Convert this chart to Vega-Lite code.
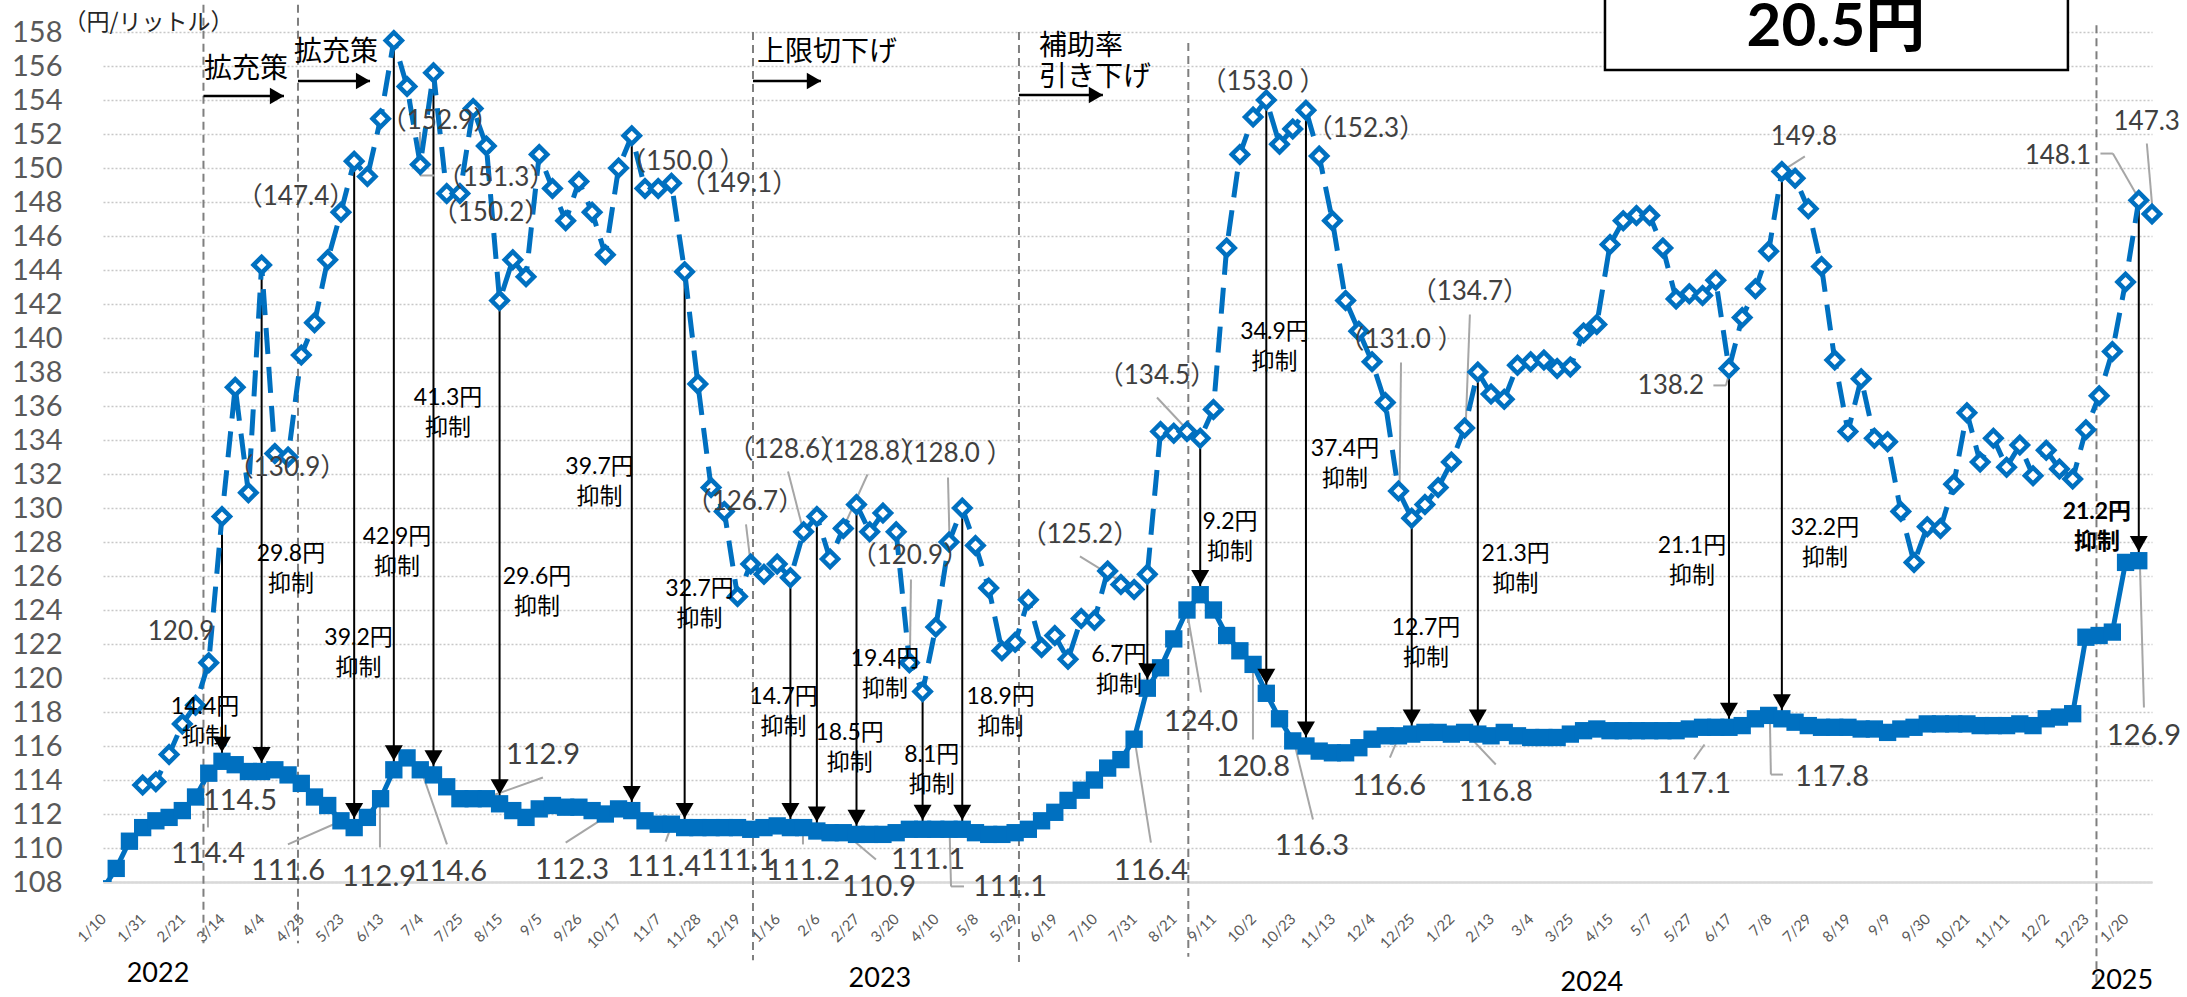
{
  "$schema": "https://vega.github.io/schema/vega-lite/v6.json",
  "width": 2049,
  "height": 850,
  "autosize": {"type": "none"},
  "padding": {"left": 103, "top": 32, "right": 35, "bottom": 115},
  "background": "white",
  "config": {"view": {"stroke": null}},
  "resolve": {"axis": {"x": "independent", "y": "independent"}},
  "datasets": {
    "withSubsidy": [
      {"i":0,"v":107.6},{"i":1,"v":108.8},{"i":2,"v":110.4},{"i":3,"v":111.2},{"i":4,"v":111.6},{"i":5,"v":111.8},{"i":6,"v":112.2},{"i":7,"v":113.0},{"i":8,"v":114.4},{"i":9,"v":115.1},
      {"i":10,"v":114.9},{"i":11,"v":114.5},{"i":12,"v":114.5},{"i":13,"v":114.6},{"i":14,"v":114.3},{"i":15,"v":113.8},{"i":16,"v":113.0},{"i":17,"v":112.5},{"i":18,"v":111.6},{"i":19,"v":111.2},
      {"i":20,"v":111.8},{"i":21,"v":112.9},{"i":22,"v":114.6},{"i":23,"v":115.3},{"i":24,"v":114.6},{"i":25,"v":114.3},{"i":26,"v":113.6},{"i":27,"v":112.9},{"i":28,"v":112.9},{"i":29,"v":112.9},
      {"i":30,"v":112.6},{"i":31,"v":112.2},{"i":32,"v":111.8},{"i":33,"v":112.3},{"i":34,"v":112.5},{"i":35,"v":112.4},{"i":36,"v":112.4},{"i":37,"v":112.2},{"i":38,"v":112.0},{"i":39,"v":112.3},
      {"i":40,"v":112.2},{"i":41,"v":111.6},{"i":42,"v":111.4},{"i":43,"v":111.4},{"i":44,"v":111.2},{"i":45,"v":111.2},{"i":46,"v":111.2},{"i":47,"v":111.2},{"i":48,"v":111.2},{"i":49,"v":111.1},
      {"i":50,"v":111.2},{"i":51,"v":111.3},{"i":52,"v":111.2},{"i":53,"v":111.2},{"i":54,"v":111.0},{"i":55,"v":110.9},{"i":56,"v":110.9},{"i":57,"v":110.8},{"i":58,"v":110.8},{"i":59,"v":110.8},
      {"i":60,"v":110.9},{"i":61,"v":111.1},{"i":62,"v":111.1},{"i":63,"v":111.1},{"i":64,"v":111.1},{"i":65,"v":111.1},{"i":66,"v":110.9},{"i":67,"v":110.8},{"i":68,"v":110.8},{"i":69,"v":110.9},
      {"i":70,"v":111.1},{"i":71,"v":111.6},{"i":72,"v":112.1},{"i":73,"v":112.8},{"i":74,"v":113.4},{"i":75,"v":114.0},{"i":76,"v":114.7},{"i":77,"v":115.2},{"i":78,"v":116.4},{"i":79,"v":119.4},
      {"i":80,"v":120.6},{"i":81,"v":122.3},{"i":82,"v":124.0},{"i":83,"v":124.9},{"i":84,"v":124.0},{"i":85,"v":122.5},{"i":86,"v":121.6},{"i":87,"v":120.8},{"i":88,"v":119.1},{"i":89,"v":117.6},
      {"i":90,"v":116.3},{"i":91,"v":116.0},{"i":92,"v":115.7},{"i":93,"v":115.6},{"i":94,"v":115.6},{"i":95,"v":115.9},{"i":96,"v":116.4},{"i":97,"v":116.6},{"i":98,"v":116.6},{"i":99,"v":116.7},
      {"i":100,"v":116.8},{"i":101,"v":116.8},{"i":102,"v":116.7},{"i":103,"v":116.8},{"i":104,"v":116.7},{"i":105,"v":116.6},{"i":106,"v":116.8},{"i":107,"v":116.6},{"i":108,"v":116.5},{"i":109,"v":116.5},
      {"i":110,"v":116.5},{"i":111,"v":116.7},{"i":112,"v":116.9},{"i":113,"v":117.0},{"i":114,"v":116.9},{"i":115,"v":116.9},{"i":116,"v":116.9},{"i":117,"v":116.9},{"i":118,"v":116.9},{"i":119,"v":116.9},
      {"i":120,"v":117.0},{"i":121,"v":117.1},{"i":122,"v":117.1},{"i":123,"v":117.1},{"i":124,"v":117.2},{"i":125,"v":117.6},{"i":126,"v":117.8},{"i":127,"v":117.6},{"i":128,"v":117.4},{"i":129,"v":117.2},
      {"i":130,"v":117.1},{"i":131,"v":117.1},{"i":132,"v":117.1},{"i":133,"v":117.0},{"i":134,"v":117.0},{"i":135,"v":116.8},{"i":136,"v":117.0},{"i":137,"v":117.1},{"i":138,"v":117.3},{"i":139,"v":117.3},
      {"i":140,"v":117.3},{"i":141,"v":117.3},{"i":142,"v":117.2},{"i":143,"v":117.2},{"i":144,"v":117.2},{"i":145,"v":117.3},{"i":146,"v":117.2},{"i":147,"v":117.6},{"i":148,"v":117.7},{"i":149,"v":117.9},
      {"i":150,"v":122.4},{"i":151,"v":122.5},{"i":152,"v":122.7},{"i":153,"v":126.8},{"i":154,"v":126.9}
    ],
    "withoutSubsidy": [
      {"i":3,"v":113.7},{"i":4,"v":113.9},{"i":5,"v":115.5},{"i":6,"v":117.3},{"i":7,"v":118.4},{"i":8,"v":120.9},{"i":9,"v":129.5},
      {"i":10,"v":137.1},{"i":11,"v":130.9},{"i":12,"v":144.3},{"i":13,"v":133.2},{"i":14,"v":133.0},{"i":15,"v":139.0},{"i":16,"v":140.9},{"i":17,"v":144.6},{"i":18,"v":147.4},{"i":19,"v":150.4},
      {"i":20,"v":149.5},{"i":21,"v":152.9},{"i":22,"v":157.5},{"i":23,"v":154.8},{"i":24,"v":150.2},{"i":25,"v":155.6},{"i":26,"v":148.5},{"i":27,"v":148.5},{"i":28,"v":153.5},{"i":29,"v":151.3},
      {"i":30,"v":142.2},{"i":31,"v":144.6},{"i":32,"v":143.6},{"i":33,"v":150.8},{"i":34,"v":148.8},{"i":35,"v":146.9},{"i":36,"v":149.2},{"i":37,"v":147.4},{"i":38,"v":144.9},{"i":39,"v":150.0},
      {"i":40,"v":151.9},{"i":41,"v":148.8},{"i":42,"v":148.8},{"i":43,"v":149.1},{"i":44,"v":143.9},{"i":45,"v":137.3},{"i":46,"v":131.2},{"i":47,"v":129.8},{"i":48,"v":124.8},{"i":49,"v":126.7},
      {"i":50,"v":126.1},{"i":51,"v":126.7},{"i":52,"v":125.9},{"i":53,"v":128.6},{"i":54,"v":129.5},{"i":55,"v":127.0},{"i":56,"v":128.8},{"i":57,"v":130.2},{"i":58,"v":128.6},{"i":59,"v":129.7},
      {"i":60,"v":128.6},{"i":61,"v":120.9},{"i":62,"v":119.2},{"i":63,"v":123.0},{"i":64,"v":128.0},{"i":65,"v":130.0},{"i":66,"v":127.8},{"i":67,"v":125.3},{"i":68,"v":121.6},{"i":69,"v":122.1},
      {"i":70,"v":124.6},{"i":71,"v":121.8},{"i":72,"v":122.5},{"i":73,"v":121.1},{"i":74,"v":123.5},{"i":75,"v":123.4},{"i":76,"v":126.3},{"i":77,"v":125.5},{"i":78,"v":125.2},{"i":79,"v":126.1},
      {"i":80,"v":134.5},{"i":81,"v":134.4},{"i":82,"v":134.5},{"i":83,"v":134.1},{"i":84,"v":135.8},{"i":85,"v":145.3},{"i":86,"v":150.8},{"i":87,"v":153.0},{"i":88,"v":154.0},{"i":89,"v":151.4},
      {"i":90,"v":152.3},{"i":91,"v":153.4},{"i":92,"v":150.7},{"i":93,"v":146.9},{"i":94,"v":142.2},{"i":95,"v":140.4},{"i":96,"v":138.6},{"i":97,"v":136.2},{"i":98,"v":131.0},{"i":99,"v":129.4},
      {"i":100,"v":130.2},{"i":101,"v":131.2},{"i":102,"v":132.7},{"i":103,"v":134.7},{"i":104,"v":138.0},{"i":105,"v":136.7},{"i":106,"v":136.4},{"i":107,"v":138.4},{"i":108,"v":138.6},{"i":109,"v":138.7},
      {"i":110,"v":138.2},{"i":111,"v":138.3},{"i":112,"v":140.3},{"i":113,"v":140.8},{"i":114,"v":145.5},{"i":115,"v":146.9},{"i":116,"v":147.2},{"i":117,"v":147.2},{"i":118,"v":145.3},{"i":119,"v":142.3},
      {"i":120,"v":142.6},{"i":121,"v":142.5},{"i":122,"v":143.4},{"i":123,"v":138.2},{"i":124,"v":141.2},{"i":125,"v":142.9},{"i":126,"v":145.1},{"i":127,"v":149.8},{"i":128,"v":149.4},{"i":129,"v":147.6},
      {"i":130,"v":144.2},{"i":131,"v":138.7},{"i":132,"v":134.5},{"i":133,"v":137.6},{"i":134,"v":134.1},{"i":135,"v":133.9},{"i":136,"v":129.8},{"i":137,"v":126.8},{"i":138,"v":128.9},{"i":139,"v":128.8},
      {"i":140,"v":131.4},{"i":141,"v":135.6},{"i":142,"v":132.7},{"i":143,"v":134.1},{"i":144,"v":132.4},{"i":145,"v":133.7},{"i":146,"v":131.9},{"i":147,"v":133.4},{"i":148,"v":132.3},{"i":149,"v":131.7},
      {"i":150,"v":134.6},{"i":151,"v":136.6},{"i":152,"v":139.2},{"i":153,"v":143.3},{"i":154,"v":148.1},{"i":155,"v":147.3}
    ],
    "cuts": [
      {"i":9,"v":129.5,"v2":115.1,"text":"14.4円\n抑制","tx":7.72,"ty":118.32},
      {"i":12,"v":144.3,"v2":114.5,"text":"29.8円\n抑制","tx":14.22,"ty":127.27},
      {"i":19,"v":150.4,"v2":111.2,"text":"39.2円\n抑制","tx":19.33,"ty":122.38},
      {"i":22,"v":157.5,"v2":114.6,"text":"42.9円\n抑制","tx":22.24,"ty":128.32},
      {"i":25,"v":155.6,"v2":114.3,"text":"41.3円\n抑制","tx":26.10,"ty":136.50},
      {"i":30,"v":142.2,"v2":112.6,"text":"29.6円\n抑制","tx":32.83,"ty":125.94},
      {"i":40,"v":151.9,"v2":112.2,"text":"39.7円\n抑制","tx":37.56,"ty":132.44},
      {"i":44,"v":143.9,"v2":111.2,"text":"32.7円\n抑制","tx":45.13,"ty":125.26},
      {"i":52,"v":125.9,"v2":111.2,"text":"14.7円\n抑制","tx":51.48,"ty":118.91},
      {"i":54,"v":129.5,"v2":111.0,"text":"18.5円\n抑制","tx":56.48,"ty":116.76},
      {"i":57,"v":130.2,"v2":110.8,"text":"19.4円\n抑制","tx":59.15,"ty":121.09},
      {"i":62,"v":119.2,"v2":111.1,"text":"8.1円\n抑制","tx":62.69,"ty":115.50},
      {"i":65,"v":130.0,"v2":111.1,"text":"18.9円\n抑制","tx":67.90,"ty":118.91},
      {"i":79,"v":126.1,"v2":119.4,"text":"6.7円\n抑制","tx":76.85,"ty":121.38},
      {"i":83,"v":134.1,"v2":124.9,"text":"9.2円\n抑制","tx":85.25,"ty":129.15},
      {"i":88,"v":154.0,"v2":119.1,"text":"34.9円\n抑制","tx":88.62,"ty":140.38},
      {"i":91,"v":153.4,"v2":116.0,"text":"37.4円\n抑制","tx":93.95,"ty":133.50},
      {"i":99,"v":129.4,"v2":116.7,"text":"12.7円\n抑制","tx":100.08,"ty":122.97},
      {"i":104,"v":138.0,"v2":116.7,"text":"21.3円\n抑制","tx":106.86,"ty":127.27},
      {"i":123,"v":138.2,"v2":117.1,"text":"21.1円\n抑制","tx":120.20,"ty":127.79},
      {"i":127,"v":149.8,"v2":117.6,"text":"32.2円\n抑制","tx":130.26,"ty":128.82},
      {"i":154,"v":148.1,"v2":126.9,"text":"21.2円\n抑制","tx":150.83,"ty":129.76}
    ],
    "dashedLabels": [
      {"x":5.90,"y":122.73,"text":"120.9"},
      {"x":13.92,"y":132.38,"text":"（130.9）"},
      {"x":14.60,"y":148.32,"text":"（147.4）"},
      {"x":25.49,"y":152.74,"text":"（152.9）"},
      {"x":29.73,"y":149.44,"text":"（151.3）"},
      {"x":29.35,"y":147.38,"text":"（150.2）"},
      {"x":43.87,"y":150.38,"text":"（150.0 ）"},
      {"x":48.11,"y":149.03,"text":"（149.1）"},
      {"x":48.56,"y":130.38,"text":"（126.7）"},
      {"x":51.74,"y":133.44,"text":"（128.6）"},
      {"x":57.79,"y":133.32,"text":"（128.8）"},
      {"x":64.07,"y":133.15,"text":"（128.0 ）"},
      {"x":61.04,"y":127.15,"text":"（120.9）"},
      {"x":73.90,"y":128.44,"text":"（125.2）"},
      {"x":79.73,"y":137.74,"text":"（134.5）"},
      {"x":87.75,"y":155.03,"text":"（153.0 ）"},
      {"x":95.54,"y":152.27,"text":"（152.3）"},
      {"x":98.19,"y":139.91,"text":"（131.0 ）"},
      {"x":103.40,"y":142.68,"text":"（134.7）"},
      {"x":118.60,"y":137.15,"text":"138.2"},
      {"x":128.67,"y":151.85,"text":"149.8"},
      {"x":147.88,"y":150.68,"text":"148.1"},
      {"x":154.60,"y":152.68,"text":"147.3"}
    ],
    "solidLabels": [
      {"x":10.36,"y":112.74,"text":"114.5"},
      {"x":7.94,"y":109.62,"text":"114.4"},
      {"x":13.99,"y":108.62,"text":"111.6"},
      {"x":20.88,"y":108.32,"text":"112.9"},
      {"x":26.25,"y":108.56,"text":"114.6"},
      {"x":33.28,"y":115.50,"text":"112.9"},
      {"x":35.48,"y":108.70,"text":"112.3"},
      {"x":42.44,"y":108.91,"text":"111.4"},
      {"x":48.03,"y":109.21,"text":"111.1"},
      {"x":52.95,"y":108.62,"text":"111.2"},
      {"x":58.70,"y":107.68,"text":"110.9"},
      {"x":62.41,"y":109.32,"text":"111.1"},
      {"x":68.61,"y":107.68,"text":"111.1"},
      {"x":79.27,"y":108.62,"text":"116.4"},
      {"x":83.06,"y":117.44,"text":"124.0"},
      {"x":86.99,"y":114.79,"text":"120.8"},
      {"x":91.45,"y":110.09,"text":"116.3"},
      {"x":97.28,"y":113.62,"text":"116.6"},
      {"x":105.36,"y":113.32,"text":"116.8"},
      {"x":120.35,"y":113.74,"text":"117.1"},
      {"x":130.79,"y":114.15,"text":"117.8"},
      {"x":154.39,"y":116.56,"text":"126.9"}
    ],
    "leaders": [
      {"x":23.98,"y":152.12,"x2":23.98,"y2":149.56},{"x":23.98,"y":149.56,"x2":25.11,"y2":149.56},
      {"x":48.64,"y":129.03,"x2":49.02,"y2":126.56},
      {"x":51.82,"y":132.15,"x2":52.95,"y2":128.74},
      {"x":57.83,"y":131.97,"x2":56.05,"y2":128.91},
      {"x":63.92,"y":131.79,"x2":64.04,"y2":128.03},
      {"x":61.12,"y":125.79,"x2":61.04,"y2":121.09},
      {"x":73.90,"y":127.15,"x2":77.96,"y2":125.21},
      {"x":79.73,"y":136.50,"x2":82.00,"y2":134.62},
      {"x":98.19,"y":138.56,"x2":98.08,"y2":131.09},
      {"x":103.40,"y":141.38,"x2":103.08,"y2":134.74},
      {"x":121.82,"y":137.21,"x2":122.77,"y2":137.21},{"x":122.77,"y":137.21,"x2":123.11,"y2":138.21},
      {"x":128.74,"y":150.68,"x2":127.06,"y2":149.85},
      {"x":151.10,"y":150.85,"x2":152.04,"y2":150.85},{"x":152.04,"y":150.85,"x2":154.08,"y2":148.09},
      {"x":154.61,"y":151.44,"x2":155.07,"y2":147.26},
      {"x":7.94,"y":111.21,"x2":7.94,"y2":114.44},
      {"x":13.99,"y":110.21,"x2":17.93,"y2":111.56},
      {"x":20.95,"y":110.03,"x2":20.95,"y2":112.85},
      {"x":26.02,"y":110.21,"x2":24.05,"y2":114.62},
      {"x":33.28,"y":114.15,"x2":29.05,"y2":112.97},
      {"x":35.00,"y":110.32,"x2":39.00,"y2":112.32},
      {"x":42.56,"y":110.38,"x2":43.03,"y2":111.38},
      {"x":52.95,"y":110.21,"x2":52.95,"y2":111.21},
      {"x":58.47,"y":109.32,"x2":56.05,"y2":110.91},
      {"x":65.13,"y":107.74,"x2":64.15,"y2":107.74},{"x":64.15,"y":107.74,"x2":64.04,"y2":111.09},
      {"x":79.27,"y":110.32,"x2":78.06,"y2":116.27},
      {"x":83.06,"y":119.15,"x2":82.00,"y2":123.91},
      {"x":86.99,"y":116.38,"x2":86.99,"y2":120.79},
      {"x":91.53,"y":111.68,"x2":90.09,"y2":116.27},
      {"x":97.35,"y":115.32,"x2":98.03,"y2":116.56},
      {"x":105.36,"y":114.91,"x2":103.08,"y2":116.79},
      {"x":120.35,"y":115.21,"x2":121.15,"y2":116.09},
      {"x":127.08,"y":114.32,"x2":126.17,"y2":114.32},{"x":126.17,"y":114.32,"x2":126.09,"y2":117.85},
      {"x":154.39,"y":118.26,"x2":154.08,"y2":126.85}
    ],
    "dividers": [
      {"x":7.60,"y":159.6,"y2":104.4},
      {"x":14.75,"y":159.6,"y2":104.4},
      {"x":49.17,"y":158.0,"y2":103.4},
      {"x":69.29,"y":158.0,"y2":103.3},
      {"x":82.10,"y":157.35,"y2":103.6},
      {"x":150.80,"y":158.4,"y2":101.95}
    ],
    "policyArrows": [
      {"x":7.60,"x2":13.69,"y":154.24},
      {"x":14.75,"x2":20.20,"y":155.12},
      {"x":49.17,"x2":54.31,"y":155.12},
      {"x":69.29,"x2":75.64,"y":154.29}
    ],
    "policyTexts": [
      {"x":10.82,"y":155.76,"text":"拡充策"},
      {"x":17.62,"y":156.76,"text":"拡充策"},
      {"x":54.77,"y":156.76,"text":"上限切下げ"}
    ],
    "policyTextsLeft": [
      {"x":70.80,"y":157.09,"text":"補助率\n引き下げ"}
    ],
    "years": [
      {"x":4.16,"y":102.6,"text":"2022"},
      {"x":58.77,"y":102.3,"text":"2023"},
      {"x":112.63,"y":102.05,"text":"2024"},
      {"x":152.72,"y":102.15,"text":"2025"}
    ],
    "unit": [{"x":3.45,"y":158.53,"text":"（円/リットル）"}],
    "box": [{"x":113.62,"x2":148.64,"y":161.06,"y2":155.76}],
    "boxText": [{"x":131.09,"y":158.26,"text":"20.5円"}]
  },
  "layer": [
    {
      "data": {"name": "withSubsidy"},
      "mark": {"type": "line", "color": "#0070C0", "strokeWidth": 5, "clip": true},
      "encoding": {
        "x": {"field": "i", "type": "quantitative", "scale": {"domain": [0,155], "nice": false, "zero": false},
          "axis": {"values": [0,3,6,9,12,15,18,21,24,27,30,33,36,39,42,45,48,51,54,57,60,63,66,69,72,75,78,81,84,87,90,93,96,99,102,105,108,111,114,117,120,123,126,129,132,135,138,141,144,147,150,153],
            "labelExpr": "['1/10','1/31','2/21','3/14','4/4','4/25','5/23','6/13','7/4','7/25','8/15','9/5','9/26','10/17','11/7','11/28','12/19','1/16','2/6','2/27','3/20','4/10','5/8','5/29','6/19','7/10','7/31','8/21','9/11','10/2','10/23','11/13','12/4','12/25','1/22','2/13','3/4','3/25','4/15','5/7','5/27','6/17','7/8','7/29','8/19','9/9','9/30','10/21','11/11','12/2','12/23','1/20'][round(datum.value/3)]",
            "labelAngle": -45, "labelAlign": "right", "labelBaseline": "middle", "labelFont": "Lato", "labelFontSize": 15, "labelColor": "#595959",
            "labelPadding": 34, "labelOverlap": false, "labelBound": false, "labelFlush": false,
            "ticks": false, "grid": false, "domain": true, "domainColor": "#D9D9D9", "domainWidth": 2.5, "title": null, "zindex": 0}},
        "y": {"field": "v", "type": "quantitative", "scale": {"domain": [108,158], "nice": false, "zero": false},
          "axis": {"values": [108,110,112,114,116,118,120,122,124,126,128,130,132,134,136,138,140,142,144,146,148,150,152,154,156,158],
            "grid": true, "gridDash": [2, 2], "gridColor": "#C8C8C8", "gridWidth": 1.5, "domain": false, "ticks": false,
            "labelFont": "Lato", "labelFontSize": 29, "labelColor": "#595959", "labelPadding": 41, "title": null, "zindex": 0}}
      }
    },
    {
      "data": {"name": "box"},
      "mark": {"type": "rect", "fill": "white", "stroke": "black", "strokeWidth": 2.5},
      "encoding": {
        "x": {"field": "x", "type": "quantitative", "scale": {"domain": [0,155], "nice": false, "zero": false}, "axis": null},
        "x2": {"field": "x2"},
        "y": {"field": "y", "type": "quantitative", "scale": {"domain": [108,158], "nice": false, "zero": false}, "axis": null},
        "y2": {"field": "y2"}
      }
    },
    {
      "data": {"name": "boxText"},
      "mark": {"type": "text", "font": "Lato, 'Noto Sans CJK JP', sans-serif", "fontSize": 60, "fontWeight": "bold", "color": "black", "align": "center", "baseline": "middle"},
      "encoding": {
        "x": {"field": "x", "type": "quantitative", "scale": {"domain": [0,155], "nice": false, "zero": false}, "axis": null},
        "y": {"field": "y", "type": "quantitative", "scale": {"domain": [108,158], "nice": false, "zero": false}, "axis": null},
        "text": {"field": "text"}
      }
    },
    {
      "data": {"name": "dividers"},
      "mark": {"type": "rule", "color": "#7F7F7F", "strokeWidth": 2, "strokeDash": [8, 5]},
      "encoding": {
        "x": {"field": "x", "type": "quantitative", "scale": {"domain": [0,155], "nice": false, "zero": false}, "axis": null},
        "y": {"field": "y", "type": "quantitative", "scale": {"domain": [108,158], "nice": false, "zero": false}, "axis": null},
        "y2": {"field": "y2"}
      }
    },
    {
      "data": {"name": "cuts"},
      "mark": {"type": "rule", "color": "black", "strokeWidth": 2},
      "encoding": {
        "x": {"field": "i", "type": "quantitative", "scale": {"domain": [0,155], "nice": false, "zero": false}, "axis": null},
        "y": {"field": "v", "type": "quantitative", "scale": {"domain": [108,158], "nice": false, "zero": false}, "axis": null},
        "y2": {"field": "v2"}
      }
    },
    {
      "data": {"name": "leaders"},
      "mark": {"type": "rule", "color": "#A6A6A6", "strokeWidth": 2},
      "encoding": {
        "x": {"field": "x", "type": "quantitative", "scale": {"domain": [0,155], "nice": false, "zero": false}, "axis": null},
        "x2": {"field": "x2"},
        "y": {"field": "y", "type": "quantitative", "scale": {"domain": [108,158], "nice": false, "zero": false}, "axis": null},
        "y2": {"field": "y2"}
      }
    },
    {
      "data": {"name": "withSubsidy"},
      "mark": {"type": "point", "shape": "square", "filled": true, "color": "#0070C0", "size": 300, "opacity": 1, "clip": true},
      "encoding": {
        "x": {"field": "i", "type": "quantitative", "scale": {"domain": [0,155], "nice": false, "zero": false}, "axis": null},
        "y": {"field": "v", "type": "quantitative", "scale": {"domain": [108,158], "nice": false, "zero": false}, "axis": null}
      }
    },
    {
      "data": {"name": "withoutSubsidy"},
      "mark": {"type": "line", "color": "#0070C0", "strokeWidth": 5, "strokeDash": [26, 13], "clip": true},
      "encoding": {
        "x": {"field": "i", "type": "quantitative", "scale": {"domain": [0,155], "nice": false, "zero": false}, "axis": null},
        "y": {"field": "v", "type": "quantitative", "scale": {"domain": [108,158], "nice": false, "zero": false}, "axis": null}
      }
    },
    {
      "data": {"name": "withoutSubsidy"},
      "mark": {"type": "point", "shape": "diamond", "filled": true, "fill": "white", "stroke": "#0070C0", "strokeWidth": 4.5, "size": 260, "opacity": 1},
      "encoding": {
        "x": {"field": "i", "type": "quantitative", "scale": {"domain": [0,155], "nice": false, "zero": false}, "axis": null},
        "y": {"field": "v", "type": "quantitative", "scale": {"domain": [108,158], "nice": false, "zero": false}, "axis": null}
      }
    },
    {
      "data": {"name": "cuts"},
      "mark": {"type": "point", "shape": "triangle-down", "filled": true, "color": "black", "size": 324, "opacity": 1, "yOffset": -16.8},
      "encoding": {
        "x": {"field": "i", "type": "quantitative", "scale": {"domain": [0,155], "nice": false, "zero": false}, "axis": null},
        "y": {"field": "v2", "type": "quantitative", "scale": {"domain": [108,158], "nice": false, "zero": false}, "axis": null}
      }
    },
    {
      "data": {"name": "policyArrows"},
      "mark": {"type": "rule", "color": "black", "strokeWidth": 2.5},
      "encoding": {
        "x": {"field": "x", "type": "quantitative", "scale": {"domain": [0,155], "nice": false, "zero": false}, "axis": null},
        "x2": {"field": "x2"},
        "y": {"field": "y", "type": "quantitative", "scale": {"domain": [108,158], "nice": false, "zero": false}, "axis": null}
      }
    },
    {
      "data": {"name": "policyArrows"},
      "mark": {"type": "point", "shape": "triangle-right", "filled": true, "color": "black", "size": 270, "opacity": 1, "xOffset": -7},
      "encoding": {
        "x": {"field": "x2", "type": "quantitative", "scale": {"domain": [0,155], "nice": false, "zero": false}, "axis": null},
        "y": {"field": "y", "type": "quantitative", "scale": {"domain": [108,158], "nice": false, "zero": false}, "axis": null}
      }
    },
    {
      "data": {"name": "cuts"},
      "transform": [{"filter": "datum.i != 154"}],
      "mark": {"type": "text", "font": "Lato, 'Noto Sans CJK JP', sans-serif", "fontSize": 23, "color": "black", "align": "center", "baseline": "middle", "lineBreak": "\n", "lineHeight": 30},
      "encoding": {
        "x": {"field": "tx", "type": "quantitative", "scale": {"domain": [0,155], "nice": false, "zero": false}, "axis": null},
        "y": {"field": "ty", "type": "quantitative", "scale": {"domain": [108,158], "nice": false, "zero": false}, "axis": null},
        "text": {"field": "text"}
      }
    },
    {
      "data": {"name": "cuts"},
      "transform": [{"filter": "datum.i == 154"}],
      "mark": {"type": "text", "font": "Lato, 'Noto Sans CJK JP', sans-serif", "fontSize": 23, "fontWeight": "bold", "color": "black", "align": "center", "baseline": "middle", "lineBreak": "\n", "lineHeight": 30},
      "encoding": {
        "x": {"field": "tx", "type": "quantitative", "scale": {"domain": [0,155], "nice": false, "zero": false}, "axis": null},
        "y": {"field": "ty", "type": "quantitative", "scale": {"domain": [108,158], "nice": false, "zero": false}, "axis": null},
        "text": {"field": "text"}
      }
    },
    {
      "data": {"name": "dashedLabels"},
      "mark": {"type": "text", "font": "Lato, 'Noto Sans CJK JP', sans-serif", "fontSize": 26, "color": "#404040", "align": "center", "baseline": "middle"},
      "encoding": {
        "x": {"field": "x", "type": "quantitative", "scale": {"domain": [0,155], "nice": false, "zero": false}, "axis": null},
        "y": {"field": "y", "type": "quantitative", "scale": {"domain": [108,158], "nice": false, "zero": false}, "axis": null},
        "text": {"field": "text"}
      }
    },
    {
      "data": {"name": "solidLabels"},
      "mark": {"type": "text", "font": "Lato, 'Noto Sans CJK JP', sans-serif", "fontSize": 29, "color": "#404040", "align": "center", "baseline": "middle"},
      "encoding": {
        "x": {"field": "x", "type": "quantitative", "scale": {"domain": [0,155], "nice": false, "zero": false}, "axis": null},
        "y": {"field": "y", "type": "quantitative", "scale": {"domain": [108,158], "nice": false, "zero": false}, "axis": null},
        "text": {"field": "text"}
      }
    },
    {
      "data": {"name": "policyTexts"},
      "mark": {"type": "text", "font": "'Noto Sans CJK JP', sans-serif", "fontSize": 28, "color": "black", "align": "center", "baseline": "middle"},
      "encoding": {
        "x": {"field": "x", "type": "quantitative", "scale": {"domain": [0,155], "nice": false, "zero": false}, "axis": null},
        "y": {"field": "y", "type": "quantitative", "scale": {"domain": [108,158], "nice": false, "zero": false}, "axis": null},
        "text": {"field": "text"}
      }
    },
    {
      "data": {"name": "policyTextsLeft"},
      "mark": {"type": "text", "font": "'Noto Sans CJK JP', sans-serif", "fontSize": 28, "color": "black", "align": "left", "baseline": "middle", "lineBreak": "\n", "lineHeight": 31},
      "encoding": {
        "x": {"field": "x", "type": "quantitative", "scale": {"domain": [0,155], "nice": false, "zero": false}, "axis": null},
        "y": {"field": "y", "type": "quantitative", "scale": {"domain": [108,158], "nice": false, "zero": false}, "axis": null},
        "text": {"field": "text"}
      }
    },
    {
      "data": {"name": "years"},
      "mark": {"type": "text", "font": "Lato, sans-serif", "fontSize": 27, "color": "black", "align": "center", "baseline": "middle"},
      "encoding": {
        "x": {"field": "x", "type": "quantitative", "scale": {"domain": [0,155], "nice": false, "zero": false}, "axis": null},
        "y": {"field": "y", "type": "quantitative", "scale": {"domain": [108,158], "nice": false, "zero": false}, "axis": null},
        "text": {"field": "text"}
      }
    },
    {
      "data": {"name": "unit"},
      "mark": {"type": "text", "font": "'Noto Sans CJK JP', sans-serif", "fontSize": 23, "color": "#262626", "align": "center", "baseline": "middle"},
      "encoding": {
        "x": {"field": "x", "type": "quantitative", "scale": {"domain": [0,155], "nice": false, "zero": false}, "axis": null},
        "y": {"field": "y", "type": "quantitative", "scale": {"domain": [108,158], "nice": false, "zero": false}, "axis": null},
        "text": {"field": "text"}
      }
    }
  ]
}
